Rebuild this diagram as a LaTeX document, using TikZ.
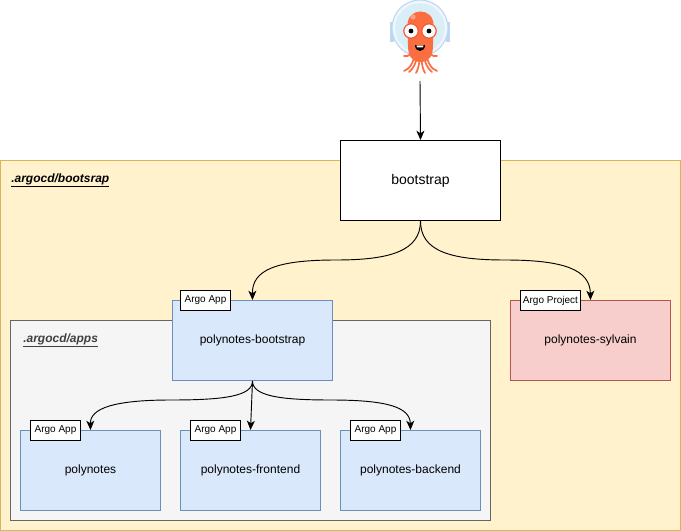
\documentclass[tikz,border=0pt]{standalone}
\usepackage{fontspec}
\setmainfont{Liberation Sans}
\usetikzlibrary{arrows.meta}
\definecolor{yfill}{HTML}{FFF2CC}\definecolor{ydraw}{HTML}{D6B656}
\definecolor{bfill}{HTML}{DAE8FC}\definecolor{bdraw}{HTML}{6C8EBF}
\definecolor{rfill}{HTML}{F8CECC}\definecolor{rdraw}{HTML}{B85450}
\definecolor{gfill}{HTML}{F5F5F5}\definecolor{gdraw}{HTML}{666666}
\definecolor{octo}{HTML}{FA6E42}\definecolor{helm}{HTML}{D9EEF6}\definecolor{helmd}{HTML}{BDD6F2}\definecolor{helml}{HTML}{EDF6FB}
\tikzset{
 box/.style={draw,line width=0.75pt,minimum width=#1*0.75pt,inner sep=0pt,font=\fontsize{9}{11}\selectfont,anchor=north west},
 appbox/.style={box=#1,fill=bfill,draw=bdraw,minimum height=60pt},
 tagbox/.style={box=#1,fill=white,draw=black,minimum height=15pt,font=\fontsize{7.5}{9}\selectfont},
 link/.style={draw=black,line width=0.7pt,-{Stealth[length=7pt,width=6pt,inset=2pt]}},
 zone/.style={font=\fontsize{9}{11}\selectfont\bfseries\itshape,anchor=base west,inner sep=0pt},
 arm/.style={draw=octo,line cap=round,line width=1.3pt},
}
\begin{document}
\begin{tikzpicture}[x=0.75pt,y=-0.75pt]
\useasboundingbox (0,0) rectangle (681,531);
\node[box=680,fill=yfill,draw=ydraw,minimum height=277.5pt] (outer) at (-0.5,160) {};
\node[zone] (outerlabel) at (11,182) {\underline{.argocd/bootsrap}};
\node[box=480,fill=gfill,draw=gdraw,minimum height=150pt] (apps) at (10,320) {};
\node[zone,text=black!75] (appslabel) at (23,342) {\underline{.argocd/apps}};
% logo
\fill[helmd] (390,22) rectangle (394,42);
\fill[helmd] (446,22) rectangle (450,42);
\fill[helml,draw=helmd,line width=0.8pt] (420,28) circle (21pt);
\fill[helm] (420,28) circle (18.5pt);
\draw[arm] (415,52) .. controls (414,62) and (410,69) .. (404,71);
\draw[arm] (417,52) .. controls (417,63) and (413,69) .. (409,72);
\draw[arm] (420,52) .. controls (420,62) and (418,70) .. (416,73);
\draw[arm] (421,52) .. controls (421,62) and (423,70) .. (425,73);
\draw[arm] (424,52) .. controls (424,63) and (428,69) .. (432,72);
\draw[arm] (426,52) .. controls (427,62) and (431,69) .. (437,71);
\draw[arm] (411,53) .. controls (409,56) and (406,57) .. (404,56);
\draw[arm] (430,53) .. controls (432,56) and (435,57) .. (437,56);
\fill[octo] (407.5,25) .. controls (407.5,7) and (433.5,7) .. (433.5,25) -- (433,45)
  .. controls (433,55) and (430,62) .. (420.5,62) .. controls (411,62) and (408,55) .. (408,45) -- cycle;
\fill[white,opacity=.35] (413,17) circle (2.6);
\foreach \ex in {411,429}{
 \fill[white,draw=octo!80!red,line width=0.9pt] (\ex,31) circle (5.4pt);
 \fill[black] (\ex,31) circle (1.8pt);
}
\fill[black] (415,45) .. controls (418,46) and (422,46) .. (425,45) .. controls (425,53) and (415,53) .. (415,45) -- cycle;
\fill[white] (416.5,45.6) -- (423.5,45.6) -- (423,47.3) -- (417,47.3) -- cycle;
\coordinate (logo) at (420,81);
% boxes
\node[box=160,fill=white,draw=black,minimum height=60pt,font=\fontsize{10.5}{12}\selectfont] (bootstrap) at (340,140) {bootstrap};
\node[appbox=160] (pb) at (172,300) {polynotes-bootstrap};
\node[appbox=160,fill=rfill,draw=rdraw] (sylvain) at (510,300) {polynotes-sylvain};
\node[appbox=140] (pn) at (20,430) {polynotes};
\node[appbox=140] (pf) at (180,430) {polynotes-frontend};
\node[appbox=140] (pe) at (340,430) {polynotes-backend};
% connectors
\coordinate (bs) at (bootstrap.south);
\coordinate (ps) at (pb.south);
\draw[link] (logo) -- (bootstrap.north);
\draw[link] (bs) .. controls +(0,30) and (390,260) .. (336,260) .. controls (276,260) and (252,270) .. (pb.north);
\draw[link] (bs) .. controls +(0,30) and (450,260) .. (505,260) .. controls (565,260) and (590,270) .. (sylvain.north);
\draw[link] (ps) .. controls +(0,15) and (225,400) .. (171,400) .. controls (115,400) and (90,408) .. (pn.north);
\draw[link] (ps) -- (pf.north);
\draw[link] (ps) .. controls +(0,15) and (280,400) .. (331,400) .. controls (390,400) and (410,408) .. (pe.north);
% tags
\node[tagbox=50] (t1) at (180,290) {Argo App};
\node[tagbox=60] (t2) at (520,290) {Argo Project};
\node[tagbox=50] (t3) at (30,420) {Argo App};
\node[tagbox=50] (t4) at (190,420) {Argo App};
\node[tagbox=50] (t5) at (350,420) {Argo App};
\end{tikzpicture}
\end{document}
